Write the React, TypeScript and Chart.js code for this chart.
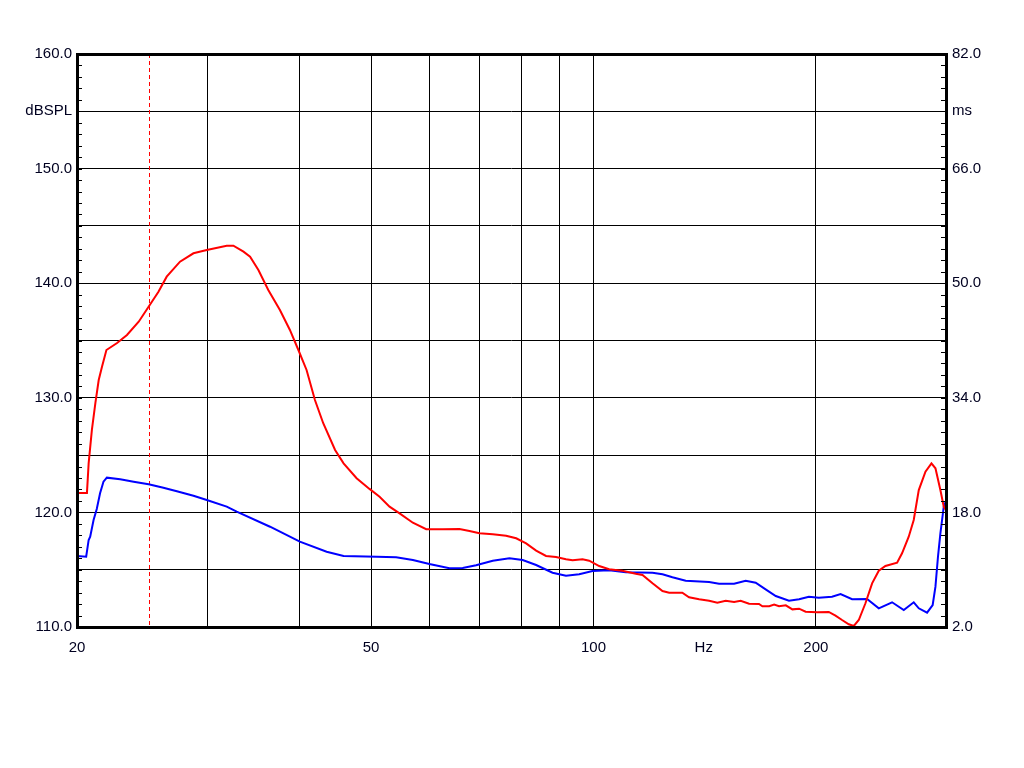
import React, { useEffect, useRef } from 'react';
import { Chart, registerables } from 'chart.js';

Chart.register(...registerables);

// Red curve: SPL (dB) vs frequency (Hz)
const redFreq = [20, 20.63, 20.74, 20.95, 21.18, 21.4, 21.62, 21.92, 22.66, 23.37, 24.24, 25.0, 25.78, 26.45, 27.57, 28.75, 29.97, 31.89, 32.56, 33.6, 34.3, 35.2, 36.3, 37.64, 38.83, 39.87, 40.9, 41.98, 43.08, 44.7, 45.9, 47.8, 49.76, 51.35, 52.97, 54.65, 56.96, 59.38, 62.52, 65.86, 67.95, 70.1, 73.07, 76.17, 78.6, 81.07, 83.64, 86.26, 88.99, 91.8, 93.7, 96.65, 98.68, 101.8, 105, 109.4, 114.1, 116.5, 120.2, 124, 126.6, 131.9, 134.7, 139, 143.4, 147.1, 151, 155, 158.2, 162.4, 167.5, 169.3, 172.9, 175.6, 178.3, 182.1, 185.9, 189.8, 193.7, 200.8, 208.2, 212.6, 217, 221.6, 225.1, 228.6, 233.4, 238.3, 243.3, 248.4, 257.6, 261.6, 267.1, 271.3, 275.6, 281.4, 286.7, 290.3, 294.8, 297.9, 300];
const redDb = [121.7, 121.7, 124.3, 127.2, 129.55, 131.55, 132.7, 134.17, 134.78, 135.48, 136.64, 137.95, 139.26, 140.57, 141.88, 142.61, 142.9, 143.27, 143.27, 142.75, 142.31, 141.15, 139.41, 137.66, 135.92, 134.17, 132.43, 129.81, 127.78, 125.45, 124.28, 122.98, 122.05, 121.37, 120.5, 119.92, 119.1, 118.53, 118.53, 118.55, 118.38, 118.18, 118.09, 117.97, 117.74, 117.3, 116.66, 116.2, 116.11, 115.91, 115.82, 115.91, 115.79, 115.32, 115.04, 114.91, 114.65, 114.54, 113.81, 113.14, 112.99, 112.99, 112.59, 112.42, 112.29, 112.12, 112.29, 112.18, 112.29, 112.03, 112.01, 111.81, 111.81, 111.95, 111.81, 111.89, 111.54, 111.6, 111.34, 111.28, 111.31, 110.99, 110.61, 110.24, 110.09, 110.61, 112.07, 113.81, 114.91, 115.32, 115.61, 116.43, 117.88, 119.34, 121.95, 123.55, 124.28, 123.85, 121.95, 120.5, 120.2];

// Blue curve: delay (ms) vs frequency (Hz)
const blueFreq = [20, 20.58, 20.74, 20.84, 21.06, 21.27, 21.49, 21.72, 21.95, 22.88, 23.86, 25, 26.18, 27.3, 28.75, 29.97, 31.89, 32.9, 36.5, 40.05, 43.54, 45.9, 50.9, 54.07, 56.96, 59.97, 63.83, 66.53, 69.36, 73.07, 76.96, 80.2, 83.64, 88.03, 91.8, 95.65, 99.7, 105, 110.6, 120.2, 124, 127.9, 133.3, 143.4, 147.9, 155, 160.7, 165.8, 171, 176.5, 183.9, 189.8, 195.7, 201.8, 210.3, 216, 223.9, 234.6, 243.3, 253.6, 263, 271.3, 275.6, 282.8, 287.8, 290.3, 292.6, 294.8, 297.9, 300];
const blueMs = [11.91, 11.82, 14.15, 14.61, 16.94, 18.48, 20.67, 22.29, 22.85, 22.62, 22.29, 21.92, 21.45, 20.95, 20.33, 19.73, 18.8, 18.1, 16.0, 13.91, 12.51, 11.91, 11.82, 11.73, 11.35, 10.8, 10.2, 10.24, 10.61, 11.26, 11.59, 11.35, 10.66, 9.58, 9.16, 9.36, 9.82, 9.92, 9.64, 9.58, 9.36, 8.94, 8.46, 8.28, 8.05, 8.05, 8.46, 8.19, 7.26, 6.33, 5.67, 5.87, 6.23, 6.09, 6.23, 6.61, 5.87, 5.91, 4.61, 5.45, 4.37, 5.45, 4.61, 4.0, 5.07, 7.63, 11.82, 15.08, 18.8, 19.6];

const xTicks = [20, 30, 40, 50, 60, 70, 80, 90, 100, 141, 200, 300];
const xLabels: Record<number, string> = { 20: '20', 50: '50', 100: '100', 141: 'Hz', 200: '200' };
const leftTicks = [110, 115, 120, 125, 130, 135, 140, 145, 150, 155, 160];
const leftLabels: Record<number, string> = { 110: '110.0', 120: '120.0', 130: '130.0', 140: '140.0', 150: '150.0', 155: 'dBSPL', 160: '160.0' };
const rightTicks = [2, 10, 18, 26, 34, 42, 50, 58, 66, 74, 82];
const rightLabels: Record<number, string> = { 2: '2.0', 18: '18.0', 34: '34.0', 50: '50.0', 66: '66.0', 74: 'ms', 82: '82.0' };
const markerFreq = 25;
const leftMinorTicks = Array.from({ length: 51 }, (_, i) => 110 + i);
const rightMinorTicks = Array.from({ length: 51 }, (_, i) => 2 + i * 1.6);

const FONT = { family: 'Arial, "Liberation Sans", sans-serif', size: 15 };
const TEXT = '#000020';

const overlay = {
  id: 'overlay',
  beforeDatasetsDraw(chart: any) {
    const { ctx, chartArea: a, scales } = chart;
    const x = Math.round(scales.x.getPixelForValue(markerFreq)) + 0.5;
    ctx.save();
    ctx.strokeStyle = '#ff0000';
    ctx.lineWidth = 1;
    ctx.setLineDash([4, 3]);
    ctx.beginPath();
    ctx.moveTo(x, a.top);
    ctx.lineTo(x, a.bottom);
    ctx.stroke();
    ctx.restore();
  },
  afterDatasetsDraw(chart: any) {
    const { ctx, chartArea: a, scales } = chart;
    ctx.save();
    ctx.strokeStyle = '#000';
    ctx.lineWidth = 1;
    ctx.beginPath();
    leftMinorTicks.forEach((v) => {
      const y = Math.round(scales.y.getPixelForValue(v)) + 0.5;
      ctx.moveTo(a.left, y);
      ctx.lineTo(a.left + 5, y);
    });
    rightMinorTicks.forEach((v) => {
      const y = Math.round(scales.y2.getPixelForValue(v)) + 0.5;
      ctx.moveTo(a.right - 5, y);
      ctx.lineTo(a.right, y);
    });
    ctx.stroke();
    ctx.lineWidth = 3;
    ctx.strokeRect(a.left + 0.5, a.top + 0.5, a.right - a.left, a.bottom - a.top);
    ctx.restore();
  },
};

export default function App() {
  const ref = useRef<HTMLCanvasElement | null>(null);
  useEffect(() => {
    if (!ref.current) return;
    const chart = new Chart(ref.current, {
      type: 'line',
      data: {
        datasets: [
          {
            label: 'SPL',
            data: redFreq.map((f, i) => ({ x: f, y: redDb[i] })),
            borderColor: '#ff0000',
            borderWidth: 2,
            pointRadius: 0,
            fill: false,
            tension: 0,
            yAxisID: 'y',
          },
          {
            label: 'Delay',
            data: blueFreq.map((f, i) => ({ x: f, y: blueMs[i] })),
            borderColor: '#0000ff',
            borderWidth: 2,
            pointRadius: 0,
            fill: false,
            tension: 0,
            yAxisID: 'y2',
          },
        ],
      },
      options: {
        animation: false,
        responsive: false,
        devicePixelRatio: 1,
        layout: { padding: { top: 54, left: 0, right: 0, bottom: 0 } },
        plugins: { legend: { display: false }, tooltip: { enabled: false } },
        scales: {
          x: {
            type: 'logarithmic',
            position: 'bottom',
            min: 20,
            max: 300,
            afterBuildTicks: (s: any) => {
              s.ticks = xTicks.map((v) => ({ value: v }));
            },
            afterFit: (s: any) => {
              s.height = 141;
            },
            ticks: {
              autoSkip: false,
              maxRotation: 0,
              minRotation: 0,
              padding: 12,
              font: FONT,
              color: TEXT,
              callback: (v: any) => xLabels[Number(v)] ?? '',
            },
            grid: {
              drawTicks: false,
              lineWidth: 1,
              color: (c: any) => (c.tick && c.tick.value === 141 ? 'rgba(0,0,0,0)' : '#000'),
            },
            border: { display: false },
          },
          y: {
            type: 'linear',
            position: 'left',
            min: 110,
            max: 160,
            afterBuildTicks: (s: any) => {
              s.ticks = leftTicks.map((v) => ({ value: v }));
            },
            afterFit: (s: any) => {
              s.width = 77;
            },
            ticks: {
              padding: 5,
              font: FONT,
              color: TEXT,
              callback: (v: any) => leftLabels[Number(v)] ?? '',
            },
            grid: { drawTicks: false, lineWidth: 1, color: '#000' },
            border: { display: false },
          },
          y2: {
            type: 'linear',
            position: 'right',
            min: 2,
            max: 82,
            afterBuildTicks: (s: any) => {
              s.ticks = rightTicks.map((v) => ({ value: v }));
            },
            afterFit: (s: any) => {
              s.width = 78;
            },
            ticks: {
              padding: 6,
              font: FONT,
              color: TEXT,
              callback: (v: any) => rightLabels[Number(v)] ?? '',
            },
            grid: { drawTicks: false, drawOnChartArea: false },
            border: { display: false },
          },
        },
      },
      plugins: [overlay],
    } as any);
    return () => chart.destroy();
  }, []);

  return (
    <div style={{ position: 'absolute', left: 0, top: 0, width: 1024, height: 768, background: '#fff' }}>
      <canvas ref={ref} width={1024} height={768} style={{ display: 'block', width: 1024, height: 768 }} />
    </div>
  );
}
